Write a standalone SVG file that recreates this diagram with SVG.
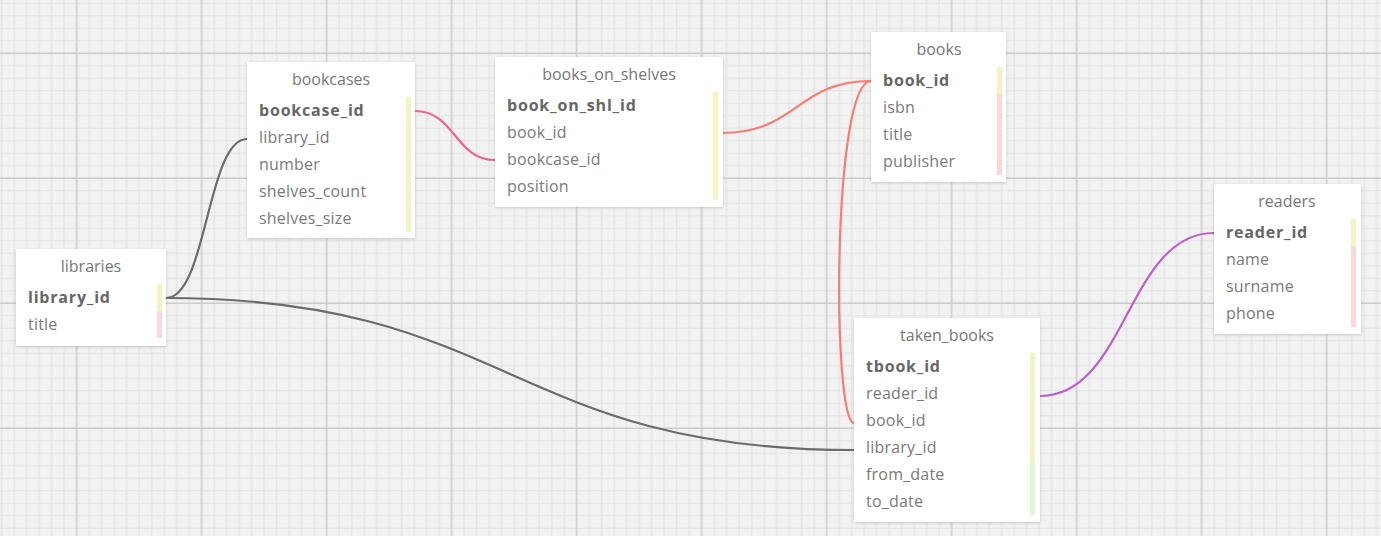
<svg xmlns="http://www.w3.org/2000/svg" width="1381" height="536" viewBox="0 0 1381 536">
<style>
.box{fill:#fff;filter:url(#sh)}
.title{font-family:"Open Sans","Liberation Sans",sans-serif;font-size:16px;fill:#777;text-anchor:middle}
.f{font-family:"Open Sans","Liberation Sans",sans-serif;font-size:16px;fill:#7a7a7a;letter-spacing:0.2px}
.pk{font-weight:bold;fill:#666;letter-spacing:0.8px}
.y{fill:#f3f3c4}
.p{fill:#fcd9d9}
.g{fill:#dcf8d7}
.c{fill:none;stroke-width:2.2;stroke-linecap:round}
</style>
<defs>
<pattern id="grid" patternUnits="userSpaceOnUse" x="20.45" y="-2.95" width="125" height="125">
<g stroke="#e3e3e3" stroke-width="1.2">
<path d="M6.25 0V125M18.75 0V125M31.25 0V125M43.75 0V125M68.75 0V125M81.25 0V125M93.75 0V125M106.25 0V125M118.75 0V125"/>
<path d="M0 6.25H125M0 18.75H125M0 31.25H125M0 43.75H125M0 68.75H125M0 81.25H125M0 93.75H125M0 106.25H125M0 118.75H125"/>
</g>
<g stroke="#cbcbcb" stroke-width="1.5">
<path d="M56.25 0V125M0 56.25H125"/>
</g>
</pattern>
<filter id="sh" x="-10%" y="-10%" width="120%" height="130%">
<feDropShadow dx="0" dy="1" stdDeviation="1.5" flood-color="#000" flood-opacity="0.18"/>
</filter>
</defs>
<rect width="1381" height="536" fill="#f2f2f2"/>
<rect width="1381" height="536" fill="url(#grid)"/>

<g id="connectors">
<path class="c" stroke="#6b6b6b" d="M166,298 C207,298 207,139 247,139"/>
<path class="c" stroke="#6b6b6b" d="M166,298 C510,298 510,450 854,450"/>
<path class="c" stroke="#f0628f" d="M415,111 C455,111 455,160 495,160"/>
<path class="c" stroke="#f77c72" d="M722,133 C797,133 797,81 871,81"/>
<path class="c" stroke="#f77c72" d="M871,81 C832,81 832,423 854,423"/>
<path class="c" stroke="#bb60cd" d="M1040,396 C1127,396 1127,233 1214,233"/>
</g>

<g id="libraries">
<rect class="box" x="16" y="249" width="150" height="97"/>
<text class="title" x="91" y="272">libraries</text>
<rect class="y" x="157" y="284" width="5" height="27"/>
<rect class="p" x="157" y="311" width="5" height="27"/>
<text class="f pk" x="28" y="303">library_id</text>
<text class="f" x="28" y="330">title</text>
</g>

<g id="bookcases">
<rect class="box" x="247" y="62" width="168" height="176"/>
<text class="title" x="331" y="85">bookcases</text>
<rect class="y" x="406" y="97" width="5" height="135"/>
<text class="f pk" x="259" y="116">bookcase_id</text>
<text class="f" x="259" y="143">library_id</text>
<text class="f" x="259" y="170">number</text>
<text class="f" x="259" y="197">shelves_count</text>
<text class="f" x="259" y="224">shelves_size</text>
</g>

<g id="books_on_shelves">
<rect class="box" x="495" y="57" width="228" height="150"/>
<text class="title" x="609" y="80">books_on_shelves</text>
<rect class="y" x="713" y="92" width="5" height="108"/>
<text class="f pk" x="507" y="111">book_on_shl_id</text>
<text class="f" x="507" y="138">book_id</text>
<text class="f" x="507" y="165">bookcase_id</text>
<text class="f" x="507" y="192">position</text>
</g>

<g id="books">
<rect class="box" x="871" y="32" width="135" height="150"/>
<text class="title" x="939" y="55">books</text>
<rect class="y" x="997" y="67" width="5" height="27"/>
<rect class="p" x="997" y="94" width="5" height="81"/>
<text class="f pk" x="883" y="86">book_id</text>
<text class="f" x="883" y="113">isbn</text>
<text class="f" x="883" y="140">title</text>
<text class="f" x="883" y="167">publisher</text>
</g>

<g id="readers">
<rect class="box" x="1214" y="184" width="147" height="150"/>
<text class="title" x="1287" y="207">readers</text>
<rect class="y" x="1351" y="219" width="5" height="27"/>
<rect class="p" x="1351" y="246" width="5" height="81"/>
<text class="f pk" x="1226" y="238">reader_id</text>
<text class="f" x="1226" y="265">name</text>
<text class="f" x="1226" y="292">surname</text>
<text class="f" x="1226" y="319">phone</text>
</g>

<g id="taken_books">
<rect class="box" x="854" y="318" width="186" height="204"/>
<text class="title" x="947" y="341">taken_books</text>
<rect class="y" x="1030" y="353" width="5" height="108"/>
<rect class="g" x="1030" y="461" width="5" height="54"/>
<text class="f pk" x="866" y="372">tbook_id</text>
<text class="f" x="866" y="399">reader_id</text>
<text class="f" x="866" y="426">book_id</text>
<text class="f" x="866" y="453">library_id</text>
<text class="f" x="866" y="480">from_date</text>
<text class="f" x="866" y="507">to_date</text>
</g>
</svg>
